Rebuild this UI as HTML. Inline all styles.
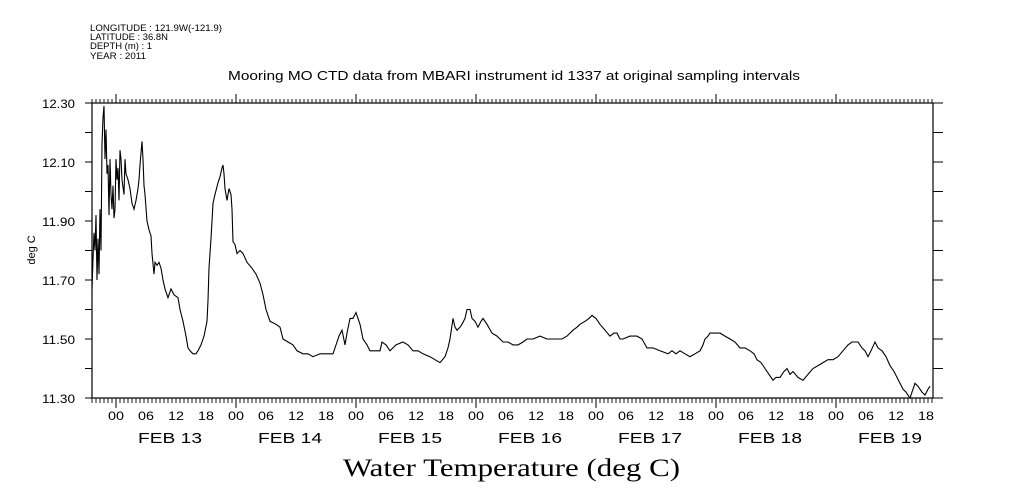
<!DOCTYPE html>
<html><head><meta charset="utf-8"><style>
body{margin:0;background:#fff;}
svg{display:block;font-family:"Liberation Sans",sans-serif;}
</style></head><body>
<svg id="chart" width="1009" height="504" viewBox="0 0 1009 504" xmlns="http://www.w3.org/2000/svg">
<rect width="1009" height="504" fill="#fff"/>
<g font-size="9" fill="#000">
<text x="90" y="31" textLength="132" lengthAdjust="spacingAndGlyphs">LONGITUDE : 121.9W(-121.9)</text>
<text x="90" y="40" textLength="78" lengthAdjust="spacingAndGlyphs">LATITUDE : 36.8N</text>
<text x="90" y="49" textLength="62" lengthAdjust="spacingAndGlyphs">DEPTH (m) : 1</text>
<text x="90" y="59" textLength="56" lengthAdjust="spacingAndGlyphs">YEAR : 2011</text>
</g>
<text x="228" y="80" textLength="572" lengthAdjust="spacingAndGlyphs" font-size="12.5">Mooring MO CTD data from MBARI instrument id 1337 at original sampling intervals</text>
<text transform="translate(35,250) rotate(-90)" text-anchor="middle" font-size="11">deg C</text>
<text x="343" y="476" textLength="337" lengthAdjust="spacingAndGlyphs" font-family="Liberation Serif, serif" font-size="25">Water Temperature (deg C)</text>
<rect x="92" y="103" width="841" height="295" fill="none" stroke="#000" stroke-width="1.2"/>
<g id="axes"></g>
<path id="series" fill="none" stroke="#000" stroke-width="1.1"/>
</svg>
<script>
const hours=[-4.8,-4.6,-4.4,-4.2,-4.0,-3.8,-3.6,-3.4,-3.2,-3.0,-2.8,-2.6,-2.4,-2.2,-2.0,-1.8,-1.6,-1.4,-1.2,-1.0,-0.8,-0.6,-0.4,-0.2,0,0.2,0.4,0.6,0.8,1.0,1.2,1.6,1.8,2.0,2.4,2.8,3.2,3.6,4.0,4.4,4.6,4.8,5.0,5.2,5.4,5.6,5.8,6.2,6.6,7.0,7.2,7.6,7.8,8.2,8.6,9.0,9.4,9.8,10.4,11.0,11.6,12.4,12.8,13.4,14.0,14.4,14.8,15.4,16.0,16.4,17.0,17.6,18.2,18.4,18.6,19.0,19.4,19.8,20.4,20.8,21.2,21.4,21.6,21.8,22.2,22.6,23.0,23.2,23.4,23.8,24.2,24.8,25.4,26.2,27.2,28.0,28.8,29.4,30.0,30.8,32.0,32.8,33.4,34.4,35.4,36.2,37.4,38.4,39.4,40.8,42.4,43.4,44.2,44.6,45.2,45.8,46.2,46.8,47.4,48.0,48.4,48.8,49.4,50.2,50.8,51.8,52.8,53.2,54.0,54.8,56.0,57.4,58.4,59.4,60.4,61.4,62.8,63.8,64.8,65.8,66.4,66.8,67.4,67.8,68.2,68.8,69.2,69.8,70.2,70.8,71.2,71.8,72.4,73.0,73.4,74.2,75.2,76.2,77.4,78.4,79.4,80.4,81.4,82.2,83.4,84.8,86.2,87.4,88.2,89.2,90.2,91.4,92.2,92.8,93.8,94.6,95.2,96.0,96.8,97.8,98.8,99.6,100.2,100.8,101.4,102.8,104.2,105.2,106.2,107.4,108.8,110.4,111.2,112.0,112.8,113.8,114.8,115.8,116.8,117.4,117.8,118.4,118.8,119.8,120.8,121.8,122.8,123.8,124.8,125.8,126.8,127.6,128.2,129.0,129.8,130.6,131.4,132.0,132.8,133.6,134.2,134.8,135.4,136.4,137.4,138.4,139.4,140.4,141.4,142.4,143.4,144.4,145.4,146.4,147.2,147.8,148.4,149.2,149.8,150.4,151.0,151.8,152.4,153.2,154.0,154.8,155.6,156.2,156.8,157.4,158.0,158.8,159.4,159.8,160.4,161.2,161.8,162.4,162.8];
const temps=[11.67,11.77,11.86,11.80,11.92,11.70,11.84,11.72,11.94,11.80,12.16,12.25,12.29,12.11,12.21,12.06,12.09,11.92,12.11,11.99,11.94,12.02,11.91,11.94,12.11,12.04,12.08,11.97,12.14,12.11,12.04,11.99,12.11,12.06,12.04,12.01,11.96,11.94,11.97,12.01,12.04,12.09,12.13,12.17,12.11,12.02,11.99,11.90,11.87,11.85,11.79,11.72,11.76,11.75,11.76,11.74,11.70,11.67,11.64,11.67,11.65,11.64,11.60,11.56,11.51,11.47,11.46,11.45,11.45,11.46,11.48,11.51,11.56,11.63,11.74,11.84,11.96,11.99,12.03,12.05,12.08,12.09,12.06,12.01,11.97,12.01,11.99,11.94,11.83,11.82,11.79,11.80,11.79,11.76,11.74,11.72,11.69,11.65,11.60,11.56,11.55,11.54,11.50,11.49,11.48,11.46,11.45,11.45,11.44,11.45,11.45,11.45,11.49,11.51,11.53,11.48,11.52,11.57,11.57,11.59,11.57,11.55,11.50,11.48,11.46,11.46,11.46,11.49,11.48,11.46,11.48,11.49,11.48,11.46,11.46,11.45,11.44,11.43,11.42,11.44,11.47,11.50,11.57,11.54,11.53,11.54,11.55,11.57,11.60,11.60,11.57,11.56,11.54,11.56,11.57,11.55,11.52,11.51,11.49,11.49,11.48,11.48,11.49,11.50,11.50,11.51,11.50,11.50,11.50,11.50,11.51,11.53,11.54,11.55,11.56,11.57,11.58,11.57,11.55,11.53,11.51,11.52,11.52,11.50,11.50,11.51,11.51,11.50,11.47,11.47,11.46,11.45,11.46,11.45,11.46,11.45,11.44,11.45,11.46,11.48,11.50,11.51,11.52,11.52,11.52,11.51,11.50,11.49,11.47,11.47,11.46,11.45,11.43,11.42,11.40,11.38,11.36,11.37,11.37,11.39,11.40,11.38,11.39,11.37,11.36,11.38,11.40,11.41,11.42,11.43,11.43,11.44,11.46,11.48,11.49,11.49,11.49,11.47,11.46,11.44,11.46,11.49,11.47,11.46,11.44,11.41,11.39,11.37,11.35,11.33,11.32,11.30,11.33,11.35,11.34,11.32,11.31,11.33,11.34];
const yTicks=[11.30,11.50,11.70,11.90,12.10,12.30];
const dayLabels=["FEB 13","FEB 14","FEB 15","FEB 16","FEB 17","FEB 18","FEB 19"];
const hourLabels=["00","06","12","18"];

const NS="http://www.w3.org/2000/svg";
const L=92,R=933,T=103,B=398;
const xs=h=>116+5*h;
const ys=v=>T+(12.30-v)*295;
const axes=document.getElementById('axes');
function mk(tag,attrs,parent){const e=document.createElementNS(NS,tag);for(const k in attrs)e.setAttribute(k,attrs[k]);(parent||axes).appendChild(e);return e;}

for(let i=0;i<=10;i++){
  const v=11.30+i*0.1,y=ys(v);
  const t1=mk('line',{x1:L-7,x2:L,y1:y,y2:y,stroke:'#000'});
  
  
  const t2=mk('line',{x1:R,x2:R+10,y1:y,y2:y,stroke:'#000'});
  
  
}
yTicks.forEach(v=>{
  const t=mk('text',{x:42,y:ys(v)+5,'font-size':'12',textLength:'33',lengthAdjust:'spacingAndGlyphs'});
  t.textContent=v.toFixed(2);
  
  
});
for(let h=-4.8;h<=163.4;h+=0.8){
  const x=xs(h);
  if(x<L||x>R)continue;
  const a=mk('line',{x1:x,x2:x,y1:T-4,y2:T,stroke:'#000','stroke-width':0.9});
  
  
  const b=mk('line',{x1:x,x2:x,y1:B,y2:B+5,stroke:'#000','stroke-width':0.9});
  
  
}
dayLabels.forEach((d,i)=>{
  const x0=xs(i*24);
  const a=mk('line',{x1:x0,x2:x0,y1:T-9,y2:T,stroke:'#000'});
  
  
  const b=mk('line',{x1:x0,x2:x0,y1:B,y2:B+10,stroke:'#000'});
  
  
  hourLabels.forEach((hl,j)=>{
    const t=mk('text',{x:xs(i*24+j*6)-8,y:420,'font-size':'12',textLength:'16',lengthAdjust:'spacingAndGlyphs'});
    t.textContent=hl;
    
    
  });
  const dt=mk('text',{x:xs(i*24+12)-38,y:443,'font-size':'15',textLength:'64',lengthAdjust:'spacingAndGlyphs'});
  dt.textContent=d;
  
  
});
let d='';
hours.forEach((h,i)=>{d+=(i?'L':'M')+xs(h).toFixed(1)+' '+ys(temps[i]).toFixed(1);});
document.getElementById('series').setAttribute('d',d);
</script>
</body></html>
